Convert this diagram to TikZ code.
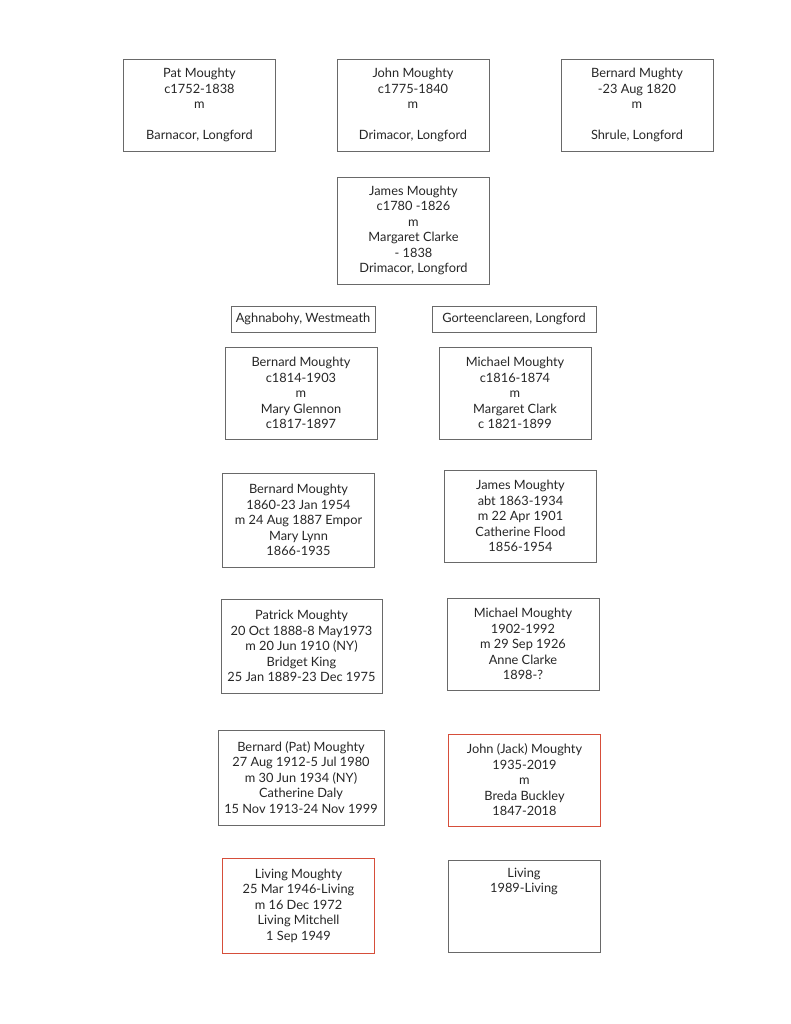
\documentclass[tikz,border=0pt]{standalone}
\usepackage{fontspec}
\setmainfont{Lato}
\usepackage{tikz}
\usetikzlibrary{positioning}
\definecolor{boxgray}{RGB}{105,105,105}
\definecolor{boxred}{RGB}{214,78,58}

\begin{document}
\begin{tikzpicture}[x=1pt,y=-1pt,every node/.style={font=\fontsize{12.8}{15.5}\selectfont,text=black!85}]
\tikzstyle{person}=[draw=boxgray,line width=0.95pt,align=center,minimum width=152pt,minimum height=92pt,inner sep=2pt]
  \tikzstyle{living}=[person,draw=boxred]
  \tikzstyle{place}=[draw=boxgray,line width=0.95pt,minimum height=26pt,inner sep=3pt]
%
\useasboundingbox (0,0) rectangle (791,1024);
%
\node[person] (pat) at (199.5,105) {Pat Moughty\\c1752-1838\\m\\\strut\\Barnacor, Longford};
  \node[person] (john) at (413,105) {John Moughty\\c1775-1840\\m\\\strut\\Drimacor, Longford};
  \node[person] (bern0) at (637,105) {Bernard Mughty\\-23 Aug 1820\\m\\\strut\\Shrule, Longford};
  \node[person,minimum height=107pt] (james0) at (413.5,230.5) {James Moughty\\c1780 -1826\\m\\Margaret Clarke\\- 1838\\Drimacor, Longford};
%
\node[place,minimum width=144pt] (aghna) at (303,319) {Aghnabohy, Westmeath};
  \node[place,minimum width=164pt] (gorteen) at (514,319) {Gorteenclareen, Longford};
%
\node[person] (bern1) at (301,393) {Bernard Moughty\\c1814-1903\\m\\Mary Glennon\\c1817-1897};
  \node[person] (mich1) at (515,393) {Michael Moughty\\c1816-1874\\m\\Margaret Clark\\c 1821-1899};
  \node[person,minimum height=94pt] (bern2) at (298.5,520) {Bernard Moughty\\1860-23 Jan 1954\\m 24 Aug 1887 Empor\\Mary Lynn\\1866-1935};
  \node[person] (james2) at (520.5,516) {James Moughty\\abt 1863-1934\\m 22 Apr 1901\\Catherine Flood\\1856-1954};
  \node[person,minimum width=161pt,minimum height=94pt] (patrick) at (301.5,646) {Patrick Moughty\\20 Oct 1888-8 May1973\\m 20 Jun 1910 (NY)\\Bridget King\\25 Jan 1889-23 Dec 1975};
  \node[person] (mich3) at (523,644) {Michael Moughty\\1902-1992\\m 29 Sep 1926\\Anne Clarke\\1898-?};
  \node[person,minimum width=166pt,minimum height=95pt] (bernpat) at (301,777.5) {Bernard (Pat) Moughty\\27 Aug 1912-5 Jul 1980\\m 30 Jun 1934 (NY)\\Catherine Daly\\15 Nov 1913-24 Nov 1999};
  \node[living] (jack) at (524.5,780) {John (Jack) Moughty\\1935-2019\\m\\Breda Buckley\\1847-2018};
  \node[living,minimum height=95pt] (livm) at (298.5,905.5) {Living Moughty\\25 Mar 1946-Living\\m 16 Dec 1972\\Living Mitchell\\1 Sep 1949};
  \node[person] (liv) at (524,906) {Living\\1989-Living\\\strut\\\strut\\\strut};
\end{tikzpicture}
\end{document}
